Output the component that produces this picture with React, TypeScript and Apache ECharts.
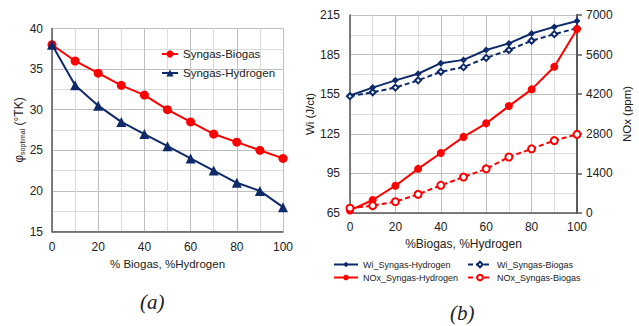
import React, { useEffect, useRef } from 'react';
import * as echarts from 'echarts';

const percent = [0, 10, 20, 30, 40, 50, 60, 70, 80, 90, 100];

// Chart (a)
const phiSyngasBiogas = [38, 36, 34.5, 33, 31.8, 30, 28.5, 27, 26, 25, 24];
const phiSyngasHydrogen = [38, 33, 30.5, 28.5, 27, 25.5, 24, 22.5, 21, 20, 18];

// Chart (b)
const wiSyngasHydrogen = [154, 160, 165.5, 170.5, 178.5, 181, 188.5, 193.5, 201, 206, 210.5];
const wiSyngasBiogas = [153.5, 156.5, 160, 165.5, 172, 175.5, 182.5, 188.5, 195.5, 200.5, 205];
const noxSyngasHydrogen = [90, 460, 965, 1560, 2120, 2690, 3170, 3780, 4370, 5170, 6500];
const noxSyngasBiogas = [170, 260, 400, 660, 980, 1270, 1560, 1980, 2270, 2560, 2780];

const FONT = 'Liberation Sans, Arial, sans-serif';
const NAVY = '#0E2A6B';
const RED = '#FF0000';
const AXIS = '#595959';
const MAJOR = '#BFBFBF';
const MINOR = '#DDDDDD';

const pairs = (ys: number[]) => percent.map((x, i) => [x, ys[i]]);

export default function App() {
  const ref = useRef<HTMLDivElement>(null);
  useEffect(() => {
    if (!ref.current) return;
    const chart = echarts.init(ref.current, undefined, { renderer: 'svg' });
    const xCommon = (fs: number, margin: number) => ({
      type: 'value' as const,
      min: 0,
      max: 100,
      interval: 20,
      axisLine: { show: true, lineStyle: { color: AXIS, width: 1.5 } },
      axisTick: { show: false },
      minorTick: { show: false, splitNumber: 2 },
      splitLine: { show: true, lineStyle: { color: MAJOR, width: 1 } },
      minorSplitLine: { show: true, lineStyle: { color: MINOR, width: 1 } },
      axisLabel: { color: '#222', fontSize: fs, fontFamily: FONT, margin },
      nameTextStyle: { color: '#222', fontFamily: FONT },
    });
    chart.setOption({
      animation: false,
      backgroundColor: '#fff',
      textStyle: { fontFamily: FONT },
      grid: [
        { left: 52, top: 28.5, width: 231, height: 203 },
        { left: 350, top: 15, width: 227, height: 198 },
      ],
      xAxis: [
        {
          ...xCommon(12, 9),
          gridIndex: 0,
          name: '% Biogas, %Hydrogen',
          nameLocation: 'middle',
          nameGap: 26,
          nameTextStyle: { color: '#222', fontFamily: FONT, fontSize: 11.5 },
        },
        {
          ...xCommon(12, 8),
          gridIndex: 1,
          name: '%Biogas, %Hydrogen',
          nameLocation: 'middle',
          nameGap: 22,
          nameTextStyle: { color: '#222', fontFamily: FONT, fontSize: 12 },
        },
      ],
      yAxis: [
        {
          gridIndex: 0,
          type: 'value',
          min: 15,
          max: 40,
          interval: 5,
          axisLine: { show: true, lineStyle: { color: AXIS, width: 1.5 } },
          axisTick: { show: false },
          minorTick: { show: false, splitNumber: 2 },
          splitLine: { show: true, lineStyle: { color: MAJOR } },
          minorSplitLine: { show: true, lineStyle: { color: MINOR } },
          axisLabel: { color: '#222', fontSize: 12, fontFamily: FONT, margin: 9 },
          name: '{p|φ}{s|soptimal} {p|(°TK)}',
          nameLocation: 'middle',
          nameGap: 26,
          nameTextStyle: {
            color: '#222',
            fontFamily: FONT,
            rich: {
              p: { fontSize: 12, fontFamily: FONT, color: '#222' },
              s: { fontSize: 7, fontFamily: FONT, color: '#222', padding: [7, 0, 0, 0] },
            },
          },
        },
        {
          gridIndex: 1,
          type: 'value',
          min: 65,
          max: 215,
          interval: 30,
          axisLine: { show: true, lineStyle: { color: AXIS, width: 1.5 } },
          axisTick: { show: false },
          minorTick: { show: false, splitNumber: 2 },
          splitLine: { show: true, lineStyle: { color: MAJOR } },
          minorSplitLine: { show: true, lineStyle: { color: MINOR } },
          axisLabel: { color: '#222', fontSize: 12, fontFamily: FONT, margin: 10 },
          name: 'Wi (J/ct)',
          nameLocation: 'middle',
          nameGap: 34,
          nameTextStyle: { color: '#222', fontFamily: FONT, fontSize: 11.5 },
        },
        {
          gridIndex: 1,
          type: 'value',
          position: 'right',
          min: 0,
          max: 7000,
          interval: 1400,
          axisLine: { show: true, lineStyle: { color: AXIS, width: 2 } },
          axisTick: { show: true, length: 5, lineStyle: { color: AXIS, width: 1.5 } },
          splitLine: { show: false },
          axisLabel: {
            color: '#222',
            fontSize: 12,
            fontFamily: FONT,
            margin: 9,
            formatter: (v: number) => String(v),
          },
          name: 'NOx (ppm)',
          nameLocation: 'middle',
          nameGap: 44,
          nameRotate: 90,
          nameTextStyle: { color: '#222', fontFamily: FONT, fontSize: 11.5 },
        },
      ],
      legend: [
        {
          orient: 'vertical',
          left: 156,
          top: 43,
          itemWidth: 16,
          itemHeight: 9,
          itemGap: 7,
          textStyle: { color: '#222', fontSize: 11.5, fontFamily: FONT },
          data: ['Syngas-Biogas', 'Syngas-Hydrogen'],
        },
        {
          orient: 'vertical',
          left: 328,
          top: 255,
          itemWidth: 24,
          itemHeight: 7,
          itemGap: 4,
          textStyle: { color: '#222', fontSize: 9, fontFamily: FONT },
          data: ['Wi_Syngas-Hydrogen', 'NOx_Syngas-Hydrogen'],
        },
        {
          orient: 'vertical',
          left: 462,
          top: 255,
          itemWidth: 24,
          itemHeight: 7,
          itemGap: 4,
          textStyle: { color: '#222', fontSize: 9, fontFamily: FONT },
          data: ['Wi_Syngas-Biogas', 'NOx_Syngas-Biogas'],
        },
      ],
      graphic: [
        {
          type: 'text',
          left: 140,
          top: 291,
          style: { text: '(a)', font: 'italic 21px "Liberation Serif", serif', fill: '#222' },
        },
        {
          type: 'text',
          left: 450,
          top: 302,
          style: { text: '(b)', font: 'italic 21px "Liberation Serif", serif', fill: '#222' },
        },
      ],
      series: [
        {
          name: 'Syngas-Biogas',
          type: 'line',
          xAxisIndex: 0,
          yAxisIndex: 0,
          data: pairs(phiSyngasBiogas),
          symbol: 'circle',
          symbolSize: 9,
          lineStyle: { color: RED, width: 2 },
          itemStyle: { color: RED },
        },
        {
          name: 'Syngas-Hydrogen',
          type: 'line',
          xAxisIndex: 0,
          yAxisIndex: 0,
          data: pairs(phiSyngasHydrogen),
          symbol: 'triangle',
          symbolSize: 10,
          lineStyle: { color: NAVY, width: 2 },
          itemStyle: { color: NAVY },
        },
        {
          name: 'Wi_Syngas-Hydrogen',
          type: 'line',
          xAxisIndex: 1,
          yAxisIndex: 1,
          data: pairs(wiSyngasHydrogen),
          symbol: 'diamond',
          symbolSize: 7,
          lineStyle: { color: NAVY, width: 2 },
          itemStyle: { color: NAVY },
        },
        {
          name: 'Wi_Syngas-Biogas',
          type: 'line',
          xAxisIndex: 1,
          yAxisIndex: 1,
          data: pairs(wiSyngasBiogas),
          symbol: 'emptyDiamond',
          symbolSize: 6,
          lineStyle: { color: NAVY, width: 2, type: [5, 3] },
          itemStyle: { color: NAVY, borderWidth: 1 },
        },
        {
          name: 'NOx_Syngas-Hydrogen',
          type: 'line',
          xAxisIndex: 1,
          yAxisIndex: 2,
          data: pairs(noxSyngasHydrogen),
          symbol: 'circle',
          symbolSize: 8,
          lineStyle: { color: RED, width: 2 },
          itemStyle: { color: RED },
        },
        {
          name: 'NOx_Syngas-Biogas',
          type: 'line',
          xAxisIndex: 1,
          yAxisIndex: 2,
          data: pairs(noxSyngasBiogas),
          symbol: 'emptyCircle',
          symbolSize: 7,
          lineStyle: { color: RED, width: 2, type: [5, 3] },
          itemStyle: { color: RED, borderWidth: 1 },
        },
      ],
    });
    return () => chart.dispose();
  }, []);
  return (
    <div
      ref={ref}
      style={{ position: 'fixed', left: 0, top: 0, width: 639, height: 326 }}
    />
  );
}
